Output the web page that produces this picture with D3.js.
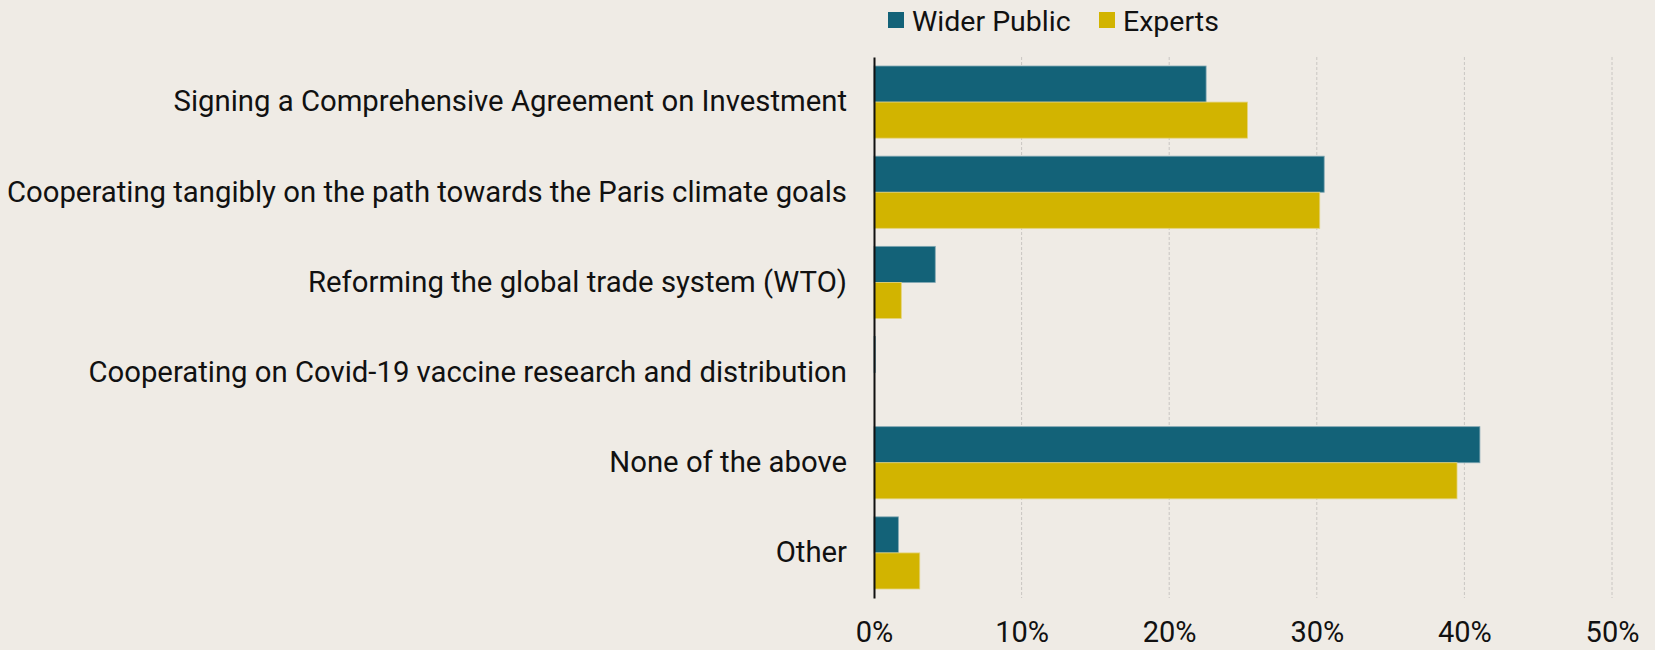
<!DOCTYPE html>
<html>
<head>
<meta charset="utf-8">
<script src="https://cdn.jsdelivr.net/npm/d3@7"></script>
<style>
  body { margin: 0; background: #efebe5; }
  svg text { font-family: Roboto, "Liberation Sans", sans-serif; fill: #111; }
</style>
</head>
<body>
<div id="chart"></div>
<script>
// categories and values
const categories = [
    'Signing a Comprehensive Agreement on Investment',
    'Cooperating tangibly on the path towards the Paris climate goals',
    'Reforming the global trade system (WTO)',
    'Cooperating on Covid-19 vaccine research and distribution',
    'None of the above',
    'Other'
];
const seriesNames = ['Wider Public', 'Experts'];
const widerPublic = [22.5, 30.5, 4.15, 0.1, 41.05, 1.65];
const experts = [25.3, 30.2, 1.85, 0, 39.5, 3.1];
const xTicks = [0, 10, 20, 30, 40, 50];
const colors = ['#136278', '#d2b400'];

const width = 1655, height = 650;
const margin = { top: 57, right: 43, bottom: 52, left: 874 };

const svg = d3.select('#chart').append('svg')
    .attr('width', width)
    .attr('height', height);

svg.append('rect').attr('width', width).attr('height', height).attr('fill', '#efebe5');

const x = d3.scaleLinear().domain([0, 50]).range([margin.left, width - margin.right]);
const y = d3.scaleBand().domain(categories).range([margin.top, height - margin.bottom])
    .paddingInner(0.2).paddingOuter(0.1);
const ySub = d3.scaleBand().domain(seriesNames).range([0, y.bandwidth()]);

// dashed gridlines
svg.append('g')
    .selectAll('line')
    .data(xTicks.slice(1))
    .join('line')
    .attr('x1', d => x(d)).attr('x2', d => x(d))
    .attr('y1', margin.top).attr('y2', height - margin.bottom)
    .attr('stroke', '#c9c6c2')
    .attr('stroke-width', 1)
    .attr('stroke-dasharray', '3,2');

// bars
const rows = categories.map((c, i) => ({ cat: c, vals: [widerPublic[i], experts[i]] }));
const groups = svg.append('g').selectAll('g')
    .data(rows)
    .join('g')
    .attr('transform', d => `translate(0,${y(d.cat)})`);

groups.selectAll('rect')
    .data(d => d.vals.map((v, j) => ({ key: seriesNames[j], value: v, j: j })))
    .join('rect')
    .attr('x', x(0))
    .attr('y', d => ySub(d.key))
    .attr('width', d => x(d.value) - x(0))
    .attr('height', ySub.bandwidth())
    .attr('fill', d => colors[d.j])
    .attr('stroke', d => d.j === 0 ? '#7fa6b2' : '#e4d37a')
    .attr('stroke-width', d => d.value > 0 ? 0.8 : 0);

// category labels
const yAxis = svg.append('g')
    .attr('transform', `translate(${margin.left},0)`)
    .call(d3.axisLeft(y).tickSize(0).tickPadding(27));
yAxis.select('.domain').attr('stroke', '#111').attr('stroke-width', 2);
yAxis.selectAll('text')
    .style('font-family', 'Roboto, sans-serif')
    .attr('font-size', 29.3)
    .attr('fill', '#111');

// x axis labels
const xAxis = svg.append('g')
    .attr('transform', `translate(0,${height - margin.bottom})`)
    .call(d3.axisBottom(x).tickValues(xTicks).tickFormat(d => d + '%').tickSize(0).tickPadding(23));
xAxis.select('.domain').remove();
xAxis.selectAll('text')
    .style('font-family', 'Roboto, sans-serif')
    .attr('font-size', 29)
    .attr('fill', '#111');

// legend
const legendX = [888, 1099];
const legend = svg.append('g').selectAll('g')
    .data(seriesNames)
    .join('g')
    .attr('transform', (d, i) => `translate(${legendX[i]},12)`);
legend.append('rect')
    .attr('width', 16).attr('height', 16)
    .attr('fill', (d, i) => colors[i]);
legend.append('text')
    .attr('x', 24).attr('y', 18.5)
    .attr('font-size', 28.5)
    .text(d => d);
</script>
</body>
</html>
